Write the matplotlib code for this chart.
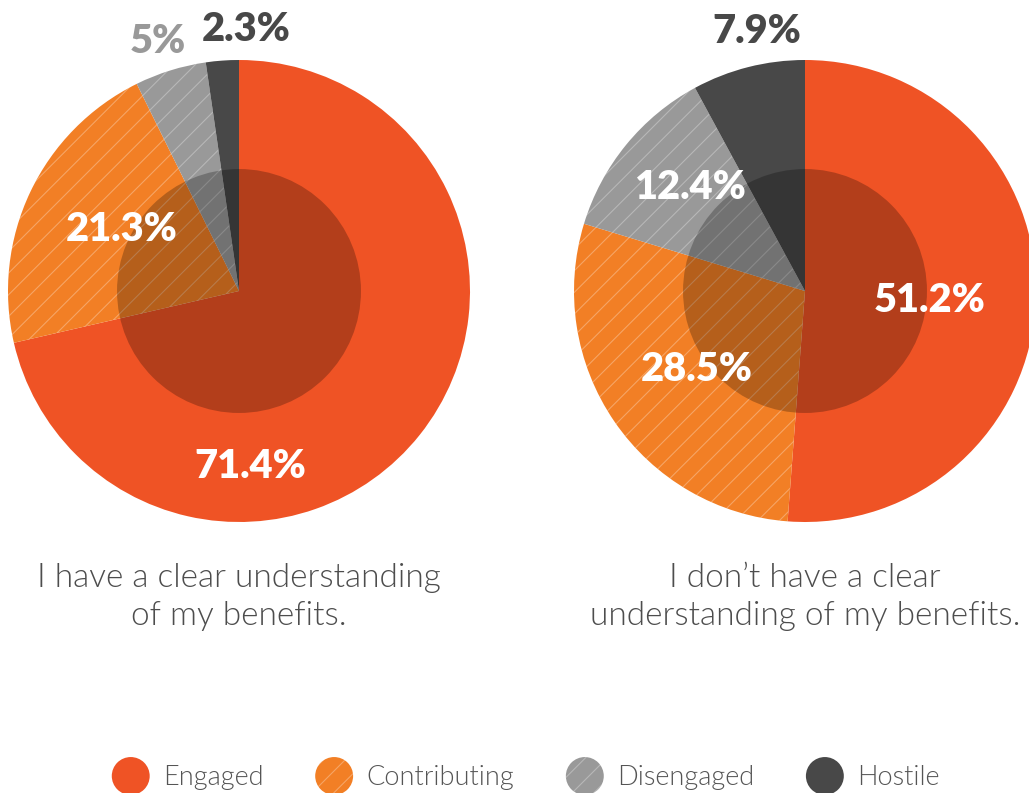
import matplotlib
matplotlib.use('Agg')
import matplotlib.pyplot as plt
import matplotlib.patches as mpatches
from matplotlib.legend_handler import HandlerPatch

categories = ['Engaged', 'Contributing', 'Disengaged', 'Hostile']
clear_vals = [71.4, 21.3, 5, 2.3]
unclear_vals = [51.2, 28.5, 12.4, 7.9]
captions = ['I have a clear understanding\nof my benefits.',
            'I don\u2019t have a clear\nunderstanding of my benefits.']

colors = ['#ef5325', '#f27f25', '#999999', '#484848']
hatches = [None, '//', '//', None]
# label spots in pie units (x, y), and their text colours
left_pos = [(0.05, -0.76), (-0.51, 0.265), (-0.35, 1.08), (0.03, 1.13)]
right_pos = [(0.54, -0.04), (-0.47, -0.34), (-0.50, 0.45), (-0.21, 1.125)]
left_txt = ['white', 'white', '#999999', '#484848']
right_txt = ['white', 'white', 'white', '#484848']

plt.rcParams['font.family'] = ['Lato', 'DejaVu Sans']
plt.rcParams['hatch.linewidth'] = 0.6

# dpi 130 so the '//' hatch spacing comes out near the original (~11px)
DPI = 130
W, H = 1029, 793
fig = plt.figure(figsize=(W / DPI, H / DPI), dpi=DPI)

def draw_pie(cx, cy, r, vals, pos, txtcol, caption):
    ax = fig.add_axes([(cx - r) / W, (H - cy - r) / H, 2 * r / W, 2 * r / H])
    wedges, _ = ax.pie(vals, colors=colors, startangle=90, counterclock=False,
                       radius=1, wedgeprops=dict(linewidth=0, edgecolor=(1, 1, 1, 0.3)))
    for w, h in zip(wedges, hatches):
        if h:
            w.set_hatch(h)
    ax.add_patch(mpatches.Circle((0, 0), 0.528, facecolor='black', alpha=0.25, linewidth=0))
    for v, (x, y), c in zip(vals, pos, txtcol):
        ax.text(x, y, '{:g}%'.format(v), ha='center', va='center', color=c,
                fontsize=22, fontweight='heavy')
    ax.set_xlim(-1, 1)
    ax.set_ylim(-1, 1)
    ax.axis('off')
    fig.text(cx / W, 1 - 597 / H, caption, ha='center', va='center', color='#4d4d4d',
             fontsize=18.5, fontweight=300, linespacing=1.3)
    return wedges

wedges = draw_pie(239, 291, 231, clear_vals, left_pos, left_txt, captions[0])
draw_pie(805, 291, 231, unclear_vals, right_pos, right_txt, captions[1])

def make_circle(legend, orig_handle, xdescent, ydescent, width, height, fontsize):
    d = min(width, height)
    return mpatches.Circle((width / 2 - xdescent, height / 2 - ydescent), d / 2)

fig.legend(wedges, categories, loc='center', bbox_to_anchor=(0.511, 1 - 776 / H),
           ncol=4, frameon=False, labelcolor='#555555',
           handlelength=1.4, handleheight=2.0, handletextpad=0.5, columnspacing=1.9,
           prop=dict(family=['Lato', 'DejaVu Sans'], weight=300, size=15),
           handler_map={mpatches.Wedge: HandlerPatch(patch_func=make_circle)})

plt.savefig('out.png', dpi=DPI)
